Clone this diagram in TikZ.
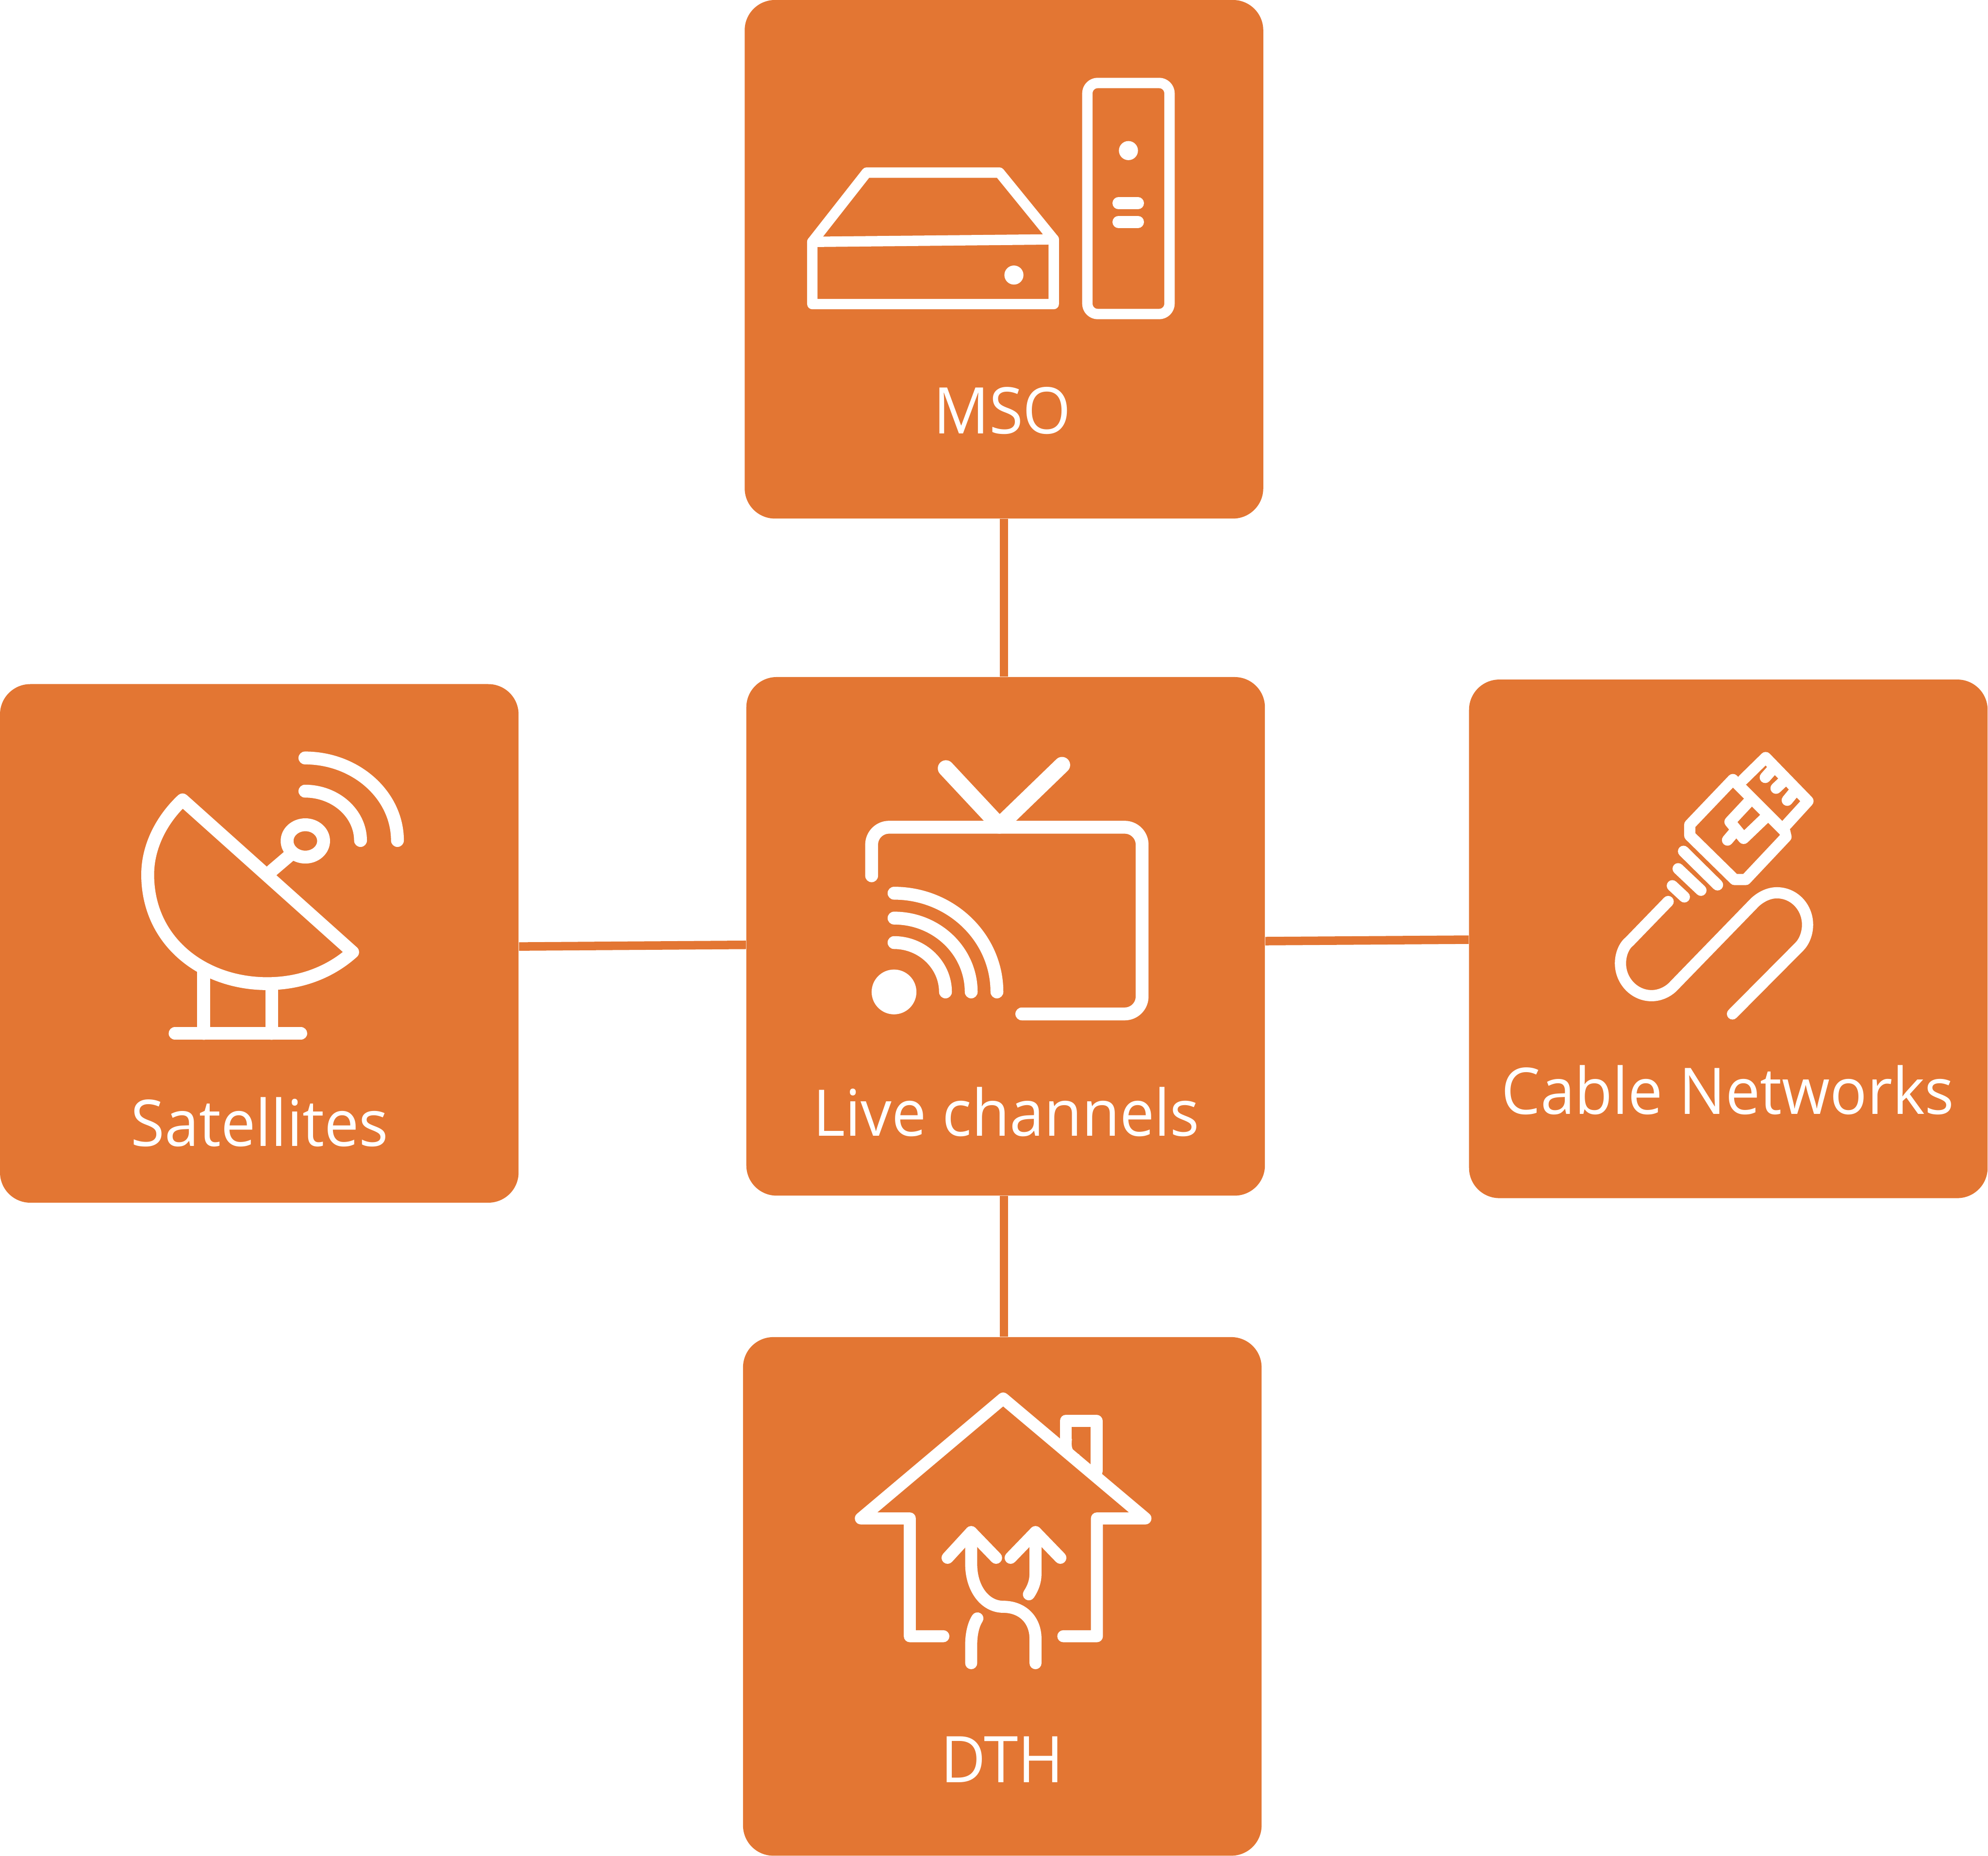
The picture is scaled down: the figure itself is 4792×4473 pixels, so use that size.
\documentclass[tikz,border=0pt]{standalone}
\usepackage{fontspec}
\setsansfont{Open Sans}[FakeStretch=0.96]
\usetikzlibrary{positioning, calc}
\definecolor{cBox}{RGB}{227,118,51}

\begin{document}
\begin{tikzpicture}[
  x=0.2pt, y=-0.2pt,
  font=\sffamily,
  % ── shared box style
  tile/.style={
    fill=cBox, rounded corners=14.6pt, inner sep=0pt,
    minimum width=250pt, minimum height=250pt
  },
  % ── labels
  lbl/.style={anchor=base, text=white, inner sep=0pt, font=\fontsize{31}{37}\sffamily},
  % ── connectors
  link/.style={draw=cBox, line width=4.1pt},
  % ── icon strokes
  icon/.style={draw=white, line width=6.2pt, line cap=round, line join=round},
  iconS/.style={icon, line width=5pt},
  iconC/.style={icon, line width=5.4pt},
  iconH/.style={icon, line width=5.8pt},
]
\useasboundingbox (0,0) rectangle (4792,4473);

%% ═══════════════════════════════════════════════════════════════
%%  BOXES AND LABELS
%% ═══════════════════════════════════════════════════════════════

\node[tile] (MSO)   at (2420,625)  {};
\node[tile] (LIVE)  at (2424,2257) {};
\node[tile] (SAT)   at (625,2274)  {};
\node[tile] (CABLE) at (4166,2263) {};
\node[tile] (DTH)   at (2416,3848) {};

% Connectors
\draw[link] (MSO.south) -- (MSO.south |- LIVE.north);
\draw[link] (LIVE.south -| MSO.south) -- (MSO.south |- DTH.north);
\draw[link] ([yshift=-1.5pt]SAT.east) -- ([yshift=-4.1pt]LIVE.west);
\draw[link] ([yshift=-2.3pt]LIVE.east) -- ([yshift=-0.4pt]CABLE.west);

\node[lbl] (tMSO)   at (2416,1045) {MSO};
\node[lbl] (tLIVE)  at (2426,2738) {Live channels};
\node[lbl] (tSAT)   at (626,2763)  {Satellites};
\node[lbl] (tCABLE) at (4165,2685) {Cable Networks};
\node[lbl] (tDTH)   at (2416,4297) {DTH};

%% ═══════════════════════════════════════════════════════════════
%%  MSO ICON
%% ═══════════════════════════════════════════════════════════════

\draw[iconS, rounded corners=5pt] (2621,200) rectangle (2819,757);
\fill[white] (2720,363) circle [radius=23];
\draw[icon, line width=5.8pt] (2696,490) -- (2743,490);
\draw[icon, line width=5.8pt] (2696,535) -- (2743,535);
\draw[iconS] (1958,733) -- (1958,583) -- (2089,416) -- (2409,416) -- (2540,577) -- (2540,733) -- cycle;
\draw[iconS] (1958,583) -- (2540,577);
\fill[white] (2444,663) circle [radius=23];

%% ═══════════════════════════════════════════════════════════════
%%  SATELLITE ICON
%% ═══════════════════════════════════════════════════════════════

\draw[icon] (440,1928) .. controls (390,1975) and (356,2040) .. (356,2108)
  .. controls (356,2270) and (490,2371) .. (644,2371)
  .. controls (730,2371) and (800,2340) .. (850,2295) -- cycle;
\draw[icon] (656,2098) -- (697,2063);
\draw[icon] (736,2027) circle [x radius=44, y radius=39];
\draw[icon] (735,1827) .. controls (858,1827) and (958,1917) .. (958,2026);
\draw[icon] (735,1907) .. controls (809,1907) and (869,1961) .. (869,2026);
\draw[icon] (491,2345) -- (491,2491);
\draw[icon] (655,2385) -- (655,2491);
\draw[icon] (422,2491) -- (725,2491);

%% ═══════════════════════════════════════════════════════════════
%%  TV ICON
%% ═══════════════════════════════════════════════════════════════

\draw[icon, rounded corners=8.4pt] (2101,2111) -- (2101,1994) -- (2753,1994) -- (2753,2444) -- (2463,2444);
\draw[icon, line width=7.8pt] (2280,1852) -- (2409,1990) -- (2560,1844);
\fill[white] (2155,2391) circle [radius=54];
\draw[icon] (2155,2153) .. controls (2292,2153) and (2403,2260) .. (2403,2391);
\draw[icon] (2155,2213) .. controls (2258,2213) and (2341,2293) .. (2341,2391);
\draw[icon] (2155,2272) .. controls (2223,2272) and (2279,2326) .. (2279,2391);

%% ═══════════════════════════════════════════════════════════════
%%  CABLE ICON
%% ═══════════════════════════════════════════════════════════════

\draw[iconC] (4021,2173) -- (3928,2269) .. controls (3915,2279) and (3906,2300) .. (3906,2322)
  .. controls (3906,2365) and (3940,2400) .. (3981,2400)
  .. controls (4000,2400) and (4018,2392) .. (4031,2380)
  -- (4230,2175) .. controls (4243,2163) and (4262,2152) .. (4283,2152)
  .. controls (4325,2152) and (4357,2187) .. (4357,2229)
  .. controls (4357,2250) and (4349,2270) .. (4337,2282) -- (4176,2444);
\draw[iconC] (4058,2052) -- (4140,2133);
\draw[iconC] (4045,2094) -- (4100,2146);
\draw[iconC] (4031,2135) -- (4060,2162);
% plug body
\draw[iconC] (4177,1879) -- (4073,1988) -- (4073,2014) -- (4181,2120) -- (4208,2120) -- (4305,2017) -- (4302,2004) -- cycle;
% plug head
\draw[iconC] (4201,1880) -- (4256,1826) -- (4358,1931) -- (4306,1988);
\draw[iconC] (4271,1856) -- (4255,1874);
\draw[iconC] (4297,1885) -- (4281,1900);
\draw[iconC] (4322,1912) -- (4308,1929);
% plug clip
\draw[iconC] (4213,1935) -- (4170,1981) -- (4203,2021) -- (4252,1974);
\draw[iconC] (4181,2005) -- (4164,2025);

%% ═══════════════════════════════════════════════════════════════
%%  HOUSE ICON
%% ═══════════════════════════════════════════════════════════════

\draw[iconH] (2274,3944) -- (2193,3944) -- (2193,3660) -- (2075,3660) -- (2418,3371)
  -- (2761,3660) -- (2644,3660) -- (2644,3944) -- (2563,3944);
\draw[iconH] (2569,3481) -- (2569,3425) -- (2643,3425) -- (2643,3546);
\fill[white] (2584,3468) .. controls (2581,3490) and (2585,3500) .. (2602,3506) -- (2590,3510) -- (2570,3490) -- cycle;
% arrows
\draw[iconH] (2284,3755) -- (2341,3693) -- (2401,3755);
\draw[iconH] (2341,3693) -- (2341,3770) .. controls (2341,3830) and (2375,3873) .. (2418,3873)
  .. controls (2465,3873) and (2496,3905) .. (2496,3950) -- (2496,4009);
\draw[iconH] (2436,3755) -- (2496,3693) -- (2556,3755);
\draw[iconH] (2496,3693) -- (2496,3794) .. controls (2496,3812) and (2490,3828) .. (2480,3843);
\draw[iconH] (2356,3901) .. controls (2346,3916) and (2341,3940) .. (2341,3964) -- (2341,4009);

\end{tikzpicture}
\end{document}
